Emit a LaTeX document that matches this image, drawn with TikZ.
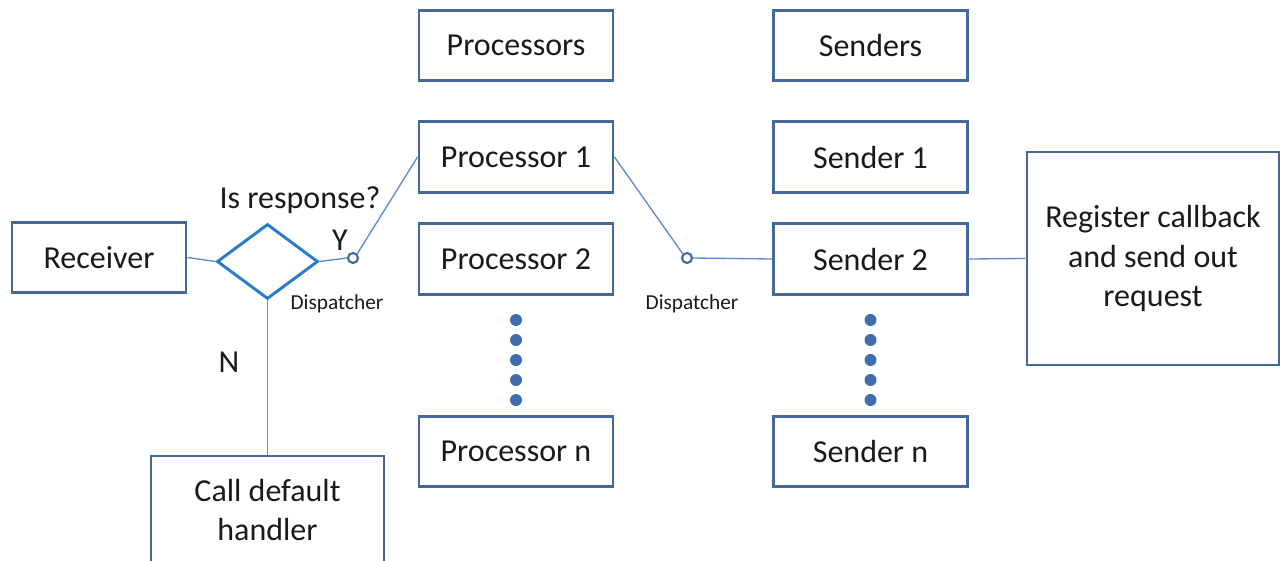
\documentclass[tikz,border=0pt]{standalone}
\usepackage{fontspec}
\setmainfont{Carlito}
\usetikzlibrary{shapes.geometric}

\definecolor{boxline}{HTML}{44699A}
\definecolor{wire}{HTML}{5B8BCF}
\definecolor{decision}{HTML}{2A7BC8}
\definecolor{dotfill}{HTML}{3F6DAE}
\definecolor{ink}{HTML}{1A1A1A}

\tikzset{
  box/.style={draw=boxline, line width=2.2pt, fill=white, inner sep=0pt,
              align=center, text=ink, font=\fontsize{24}{29.5}\selectfont},
  stdbox/.style={box, minimum width=145.5pt, minimum height=53pt},
  wireline/.style={draw=wire, line width=1pt},
  switch/.style={circle, draw=boxline, line width=1.6pt, fill=white,
                 inner sep=0pt, minimum size=7.5pt},
  ellipsis/.style={circle, fill=dotfill, inner sep=0pt, minimum size=9pt},
  label/.style={text=ink, inner sep=0pt, font=\fontsize{24}{29}\selectfont},
  small/.style={text=ink, inner sep=0pt, font=\fontsize{16}{19}\selectfont},
}

\begin{document}
\begin{tikzpicture}[x=0.75pt, y=-0.75pt]
  \useasboundingbox (0,0) rectangle (1280,560);
  \clip (0,0) rectangle (1280,560);

  % column headers
  \node[stdbox] (prochead) at (516,45.5)   {Processors};
  \node[stdbox] (sendhead) at (870.5,45.5) {Senders};

  % processors
  \node[stdbox] (proc1) at (516,157)   {Processor 1};
  \node[stdbox] (proc2) at (516,259)   {Processor 2};
  \node[stdbox] (procn) at (516,451.5) {Processor n};

  % senders
  \node[stdbox] (send1) at (870.5,157)   {Sender 1};
  \node[stdbox] (send2) at (870.5,259)   {Sender 2};
  \node[stdbox] (sendn) at (870.5,451.5) {Sender n};

  % receiver, decision and default handler
  \node[box, minimum width=130.5pt, minimum height=53pt] (receiver) at (99,257.5) {Receiver};
  \node[diamond, draw=decision, line width=2.2pt, fill=white, inner sep=0pt,
        minimum width=75.75pt, minimum height=56.25pt] (isresp) at (267.5,261.5) {};
  \node[box, minimum width=174.75pt, minimum height=81pt] (handler) at (267.5,510) {Call default\\handler};

  % callback registration
  \node[box, minimum width=189pt, minimum height=159.75pt] (register) at (1153,258.5)
       {Register callback\\and send out\\request};

  % dispatcher switches
  \node[switch] (disp1) at (353,258) {};
  \node[switch] (disp2) at (687,258) {};

  % connectors
  \draw[wireline] (receiver.east) -- (isresp.west);
  \draw[wireline] (isresp.east) -- (disp1.west);
  \draw[wireline] (disp1.north east) -- (proc1.west);
  \draw[wireline] (isresp.south) -- (handler.north);
  \draw[wireline] (proc1.east) -- (disp2.north west);
  \draw[wireline] (disp2.east) -- (send2.west);
  \draw[wireline] (send2.east) -- (register.west);

  % vertical ellipses between the second and last entries
  \foreach \k/\yy in {1/320,2/340,3/360,4/380,5/400} {
    \node[ellipsis] (pdot\k) at (516,\yy) {};
    \node[ellipsis] (sdot\k) at (870.5,\yy) {};
  }

  % labels
  \node[label] (question) at (300,200) {Is response?};
  \node[label] (yes) at (340,240) {Y};
  \node[label] (no)  at (229,362) {N};
  \node[small] (displabel1) at (337,304) {Dispatcher};
  \node[small] (displabel2) at (692,304) {Dispatcher};
\end{tikzpicture}
\end{document}
